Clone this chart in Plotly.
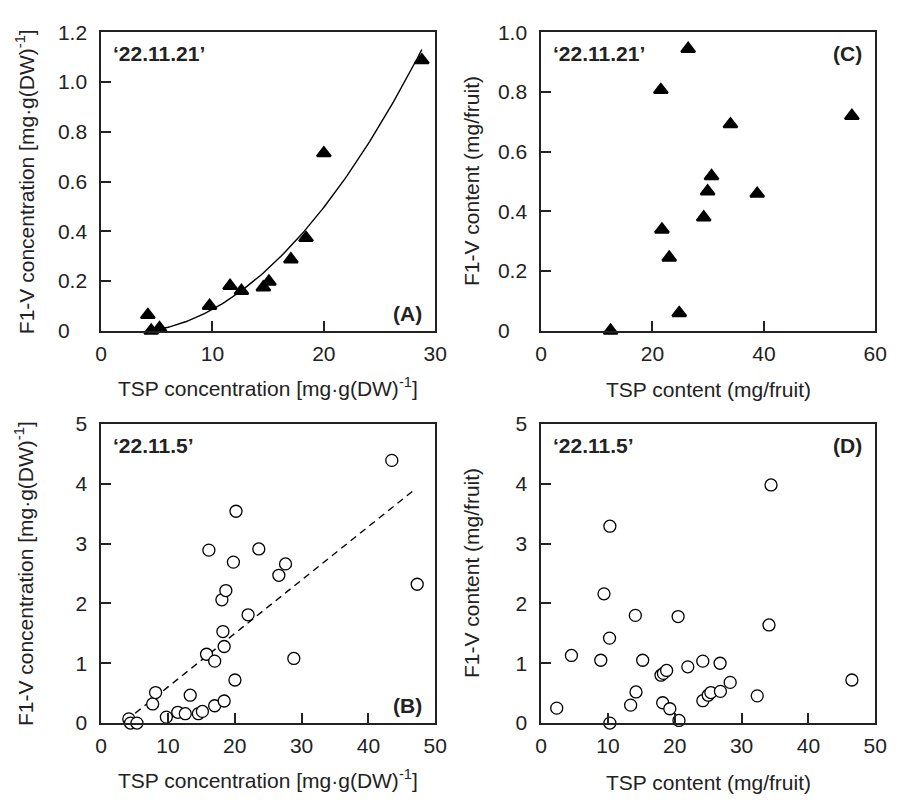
import numpy as np
import plotly.graph_objects as go

# ---- data -------------------------------------------------------------
# (A) '22.11.21' concentration basis
a_tsp = [4.2, 4.5, 5.25, 9.74, 11.58, 12.6, 14.57, 15.07, 17.04, 18.4, 20.0, 28.8]
a_f1v = [0.063, 0.0, 0.01, 0.10, 0.18, 0.16, 0.174, 0.197, 0.287, 0.373, 0.714, 1.088]
# quadratic fit for (A): y = c2*x^2 + c1*x + c0
a_fit_coef = [0.00165, -0.0084, 0.0044]
a_fit_xrange = [4.6, 28.8]

# (C) '22.11.21' per-fruit basis
c_tsp = [12.47, 26.4, 21.5, 21.7, 23.0, 24.8, 29.2, 29.9, 30.6, 34.0, 38.8, 55.8]
c_f1v = [0.0, 0.945, 0.807, 0.339, 0.245, 0.059, 0.38, 0.467, 0.518, 0.692, 0.459, 0.72]

# (B) '22.11.5' concentration basis
b_tsp = [4.15, 4.4, 5.37, 7.72, 8.16, 9.77, 11.48, 12.6, 13.34, 14.56, 15.16, 15.78,
         16.13, 17.0, 17.0, 18.08, 18.67, 18.23, 18.42, 18.42, 19.8, 20.19, 20.03,
         22.0, 23.6, 26.6, 27.6, 28.84, 43.5, 47.3]
b_f1v = [0.07, 0.0, 0.0, 0.32, 0.51, 0.10, 0.18, 0.157, 0.466, 0.157, 0.195, 1.15,
         2.89, 1.035, 0.29, 2.06, 2.215, 1.53, 1.28, 0.369, 2.69, 3.54, 0.72,
         1.81, 2.91, 2.47, 2.66, 1.08, 4.39, 2.32]
# linear fit for (B): y = slope*x + intercept
b_fit_slope = 0.0894
b_fit_intercept = -0.292
b_fit_xrange = [5.1, 46.7]

# (D) '22.11.5' per-fruit basis
d_tsp = [2.34, 4.54, 8.93, 9.41, 10.24, 10.29, 10.29, 13.4, 14.2, 14.1, 15.2, 17.94,
         18.3, 18.78, 18.19, 19.26, 20.5, 20.63, 21.95, 24.19, 24.2, 25.0, 25.4,
         26.78, 26.83, 28.29, 32.34, 34.1, 34.4, 46.5]
d_f1v = [0.25, 1.13, 1.05, 2.16, 1.42, 3.29, 0.0, 0.30, 0.52, 1.80, 1.05, 0.80,
         0.83, 0.88, 0.34, 0.24, 1.78, 0.044, 0.94, 1.035, 0.374, 0.466, 0.51,
         1.0, 0.53, 0.68, 0.455, 1.64, 3.98, 0.72]

# tick labels
conc_y_ticks = [0, 0.2, 0.4, 0.6, 0.8, 1.0, 1.2]
conc_y_text = ["0\u00a0\u00a0\u00a0", "0.2", "0.4", "0.6", "0.8", "1.0", "1.2"]
cont_y_ticks = [0, 0.2, 0.4, 0.6, 0.8, 1.0]
cont_y_text = ["0\u00a0\u00a0\u00a0", "0.2", "0.4", "0.6", "0.8", "1.0"]
five_ticks = [0, 1, 2, 3, 4, 5]

# ---- layout helpers ---------------------------------------------------
W, H = 901, 805
INK = "#222222"
FONT = "Liberation Sans, Arial, sans-serif"


def fx(p):
    return p / W


def fy(p):
    return 1 - p / H


# pixel boxes of the four plotting areas: left, right, top, bottom
boxes = {
    "A": (97, 438, 21, 328),
    "C": (546, 887, 21, 328),
    "B": (97, 438, 424, 732),
    "D": (546, 887, 424, 732),
}

fig = go.Figure()

tri = dict(symbol="triangle-up", size=12, color="black", line=dict(color="black", width=2.2))
ring = dict(symbol="circle", size=12, color="white", line=dict(color="black", width=1.3))

# (A)
xs = np.linspace(a_fit_xrange[0], a_fit_xrange[1], 120)
ys = np.polyval(a_fit_coef, xs)
fig.add_trace(go.Scatter(x=xs, y=ys, mode="lines", line=dict(color="black", width=1.4),
                         xaxis="x", yaxis="y", showlegend=False, hoverinfo="skip"))
fig.add_trace(go.Scatter(x=a_tsp, y=a_f1v, mode="markers", marker=tri, cliponaxis=False,
                         xaxis="x", yaxis="y", showlegend=False))
# (C)
fig.add_trace(go.Scatter(x=c_tsp, y=c_f1v, mode="markers", marker=tri, cliponaxis=False,
                         xaxis="x2", yaxis="y2", showlegend=False))
# (B)
bx = np.array(b_fit_xrange)
fig.add_trace(go.Scatter(x=bx, y=b_fit_slope * bx + b_fit_intercept, mode="lines",
                         line=dict(color="black", width=1.4, dash="7px,5px"),
                         xaxis="x3", yaxis="y3", showlegend=False, hoverinfo="skip"))
fig.add_trace(go.Scatter(x=b_tsp, y=b_f1v, mode="markers", marker=ring, cliponaxis=False,
                         xaxis="x3", yaxis="y3", showlegend=False))
# (D)
fig.add_trace(go.Scatter(x=d_tsp, y=d_f1v, mode="markers", marker=ring, cliponaxis=False,
                         xaxis="x4", yaxis="y4", showlegend=False))


def axis_common():
    return dict(showline=True, mirror=True, linecolor=INK, linewidth=1.5,
                ticks="inside", ticklen=10, tickwidth=1.5, tickcolor=INK,
                showgrid=False, zeroline=False, fixedrange=True,
                tickfont=dict(family=FONT, size=21, color=INK))


def xaxis(box, rng, dtick, anchor):
    l, r, t, b = box
    d = axis_common()
    d.update(domain=[fx(l), fx(r)], range=rng, tickmode="linear", tick0=0, dtick=dtick,
             anchor=anchor, ticklabelstandoff=3)
    return d


def yaxis(box, rng, vals, text, anchor):
    l, r, t, b = box
    d = axis_common()
    d.update(domain=[fy(b), fy(t)], range=rng, tickmode="array", tickvals=vals,
             ticktext=text, anchor=anchor, ticklabelstandoff=8)
    return d


fig.update_layout(
    width=W, height=H, autosize=False,
    margin=dict(l=0, r=0, t=0, b=0),
    paper_bgcolor="white", plot_bgcolor="white",
    xaxis=xaxis(boxes["A"], [0, 30], 10, "y"),
    yaxis=yaxis(boxes["A"], [0, 1.2], conc_y_ticks, conc_y_text, "x"),
    xaxis2=xaxis(boxes["C"], [0, 60], 20, "y2"),
    yaxis2=yaxis(boxes["C"], [0, 1.0], cont_y_ticks, cont_y_text, "x2"),
    xaxis3=xaxis(boxes["B"], [0, 50], 10, "y3"),
    yaxis3=yaxis(boxes["B"], [0, 5], five_ticks, [str(v) for v in five_ticks], "x3"),
    xaxis4=xaxis(boxes["D"], [0, 50], 10, "y4"),
    yaxis4=yaxis(boxes["D"], [0, 5], five_ticks, [str(v) for v in five_ticks], "x4"),
)

conc_x_title = "TSP concentration [mg·g(DW)<sup>-1</sup>]"
conc_y_title = "F1-V concentration [mg·g(DW)<sup>-1</sup>]"
cont_x_title = "TSP content (mg/fruit)"
cont_y_title = "F1-V content (mg/fruit)"

# x title, y title, cultivar tag, panel letter, letter position, whether titles carry a superscript
titles = {
    "A": (conc_x_title, conc_y_title, "‘22.11.21’", "(A)", "bottom", True),
    "C": (cont_x_title, cont_y_title, "‘22.11.21’", "(C)", "top", False),
    "B": (conc_x_title, conc_y_title, "‘22.11.5’", "(B)", "bottom", True),
    "D": (cont_x_title, cont_y_title, "‘22.11.5’", "(D)", "top", False),
}

ann = []
for key, (xt, yt, date, tag, tag_pos, has_sup) in titles.items():
    l, r, t, b = boxes[key]
    xoff = 58 if has_sup else 61
    yoff = 78 if has_sup else 71
    ann.append(dict(text=xt, x=fx((l + r) / 2), y=fy(b + xoff), xref="paper", yref="paper",
                    xanchor="center", yanchor="middle", showarrow=False,
                    font=dict(family=FONT, size=21, color=INK)))
    ann.append(dict(text=yt, x=fx(l - yoff), y=fy((t + b) / 2), xref="paper", yref="paper",
                    xanchor="center", yanchor="middle", textangle=-90, showarrow=False,
                    font=dict(family=FONT, size=21, color=INK)))
    ann.append(dict(text="<b>" + date + "</b>", x=fx(l + 10), y=fy(t + 22), xref="paper",
                    yref="paper", xanchor="left", yanchor="middle", showarrow=False,
                    font=dict(family=FONT, size=21, color=INK)))
    ty = t + 22 if tag_pos == "top" else b - 18
    ann.append(dict(text="<b>" + tag + "</b>", x=fx(r - 11), y=fy(ty), xref="paper",
                    yref="paper", xanchor="right", yanchor="middle", showarrow=False,
                    font=dict(family=FONT, size=21, color=INK)))

fig.update_layout(annotations=ann)

fig.write_html("out.html")
